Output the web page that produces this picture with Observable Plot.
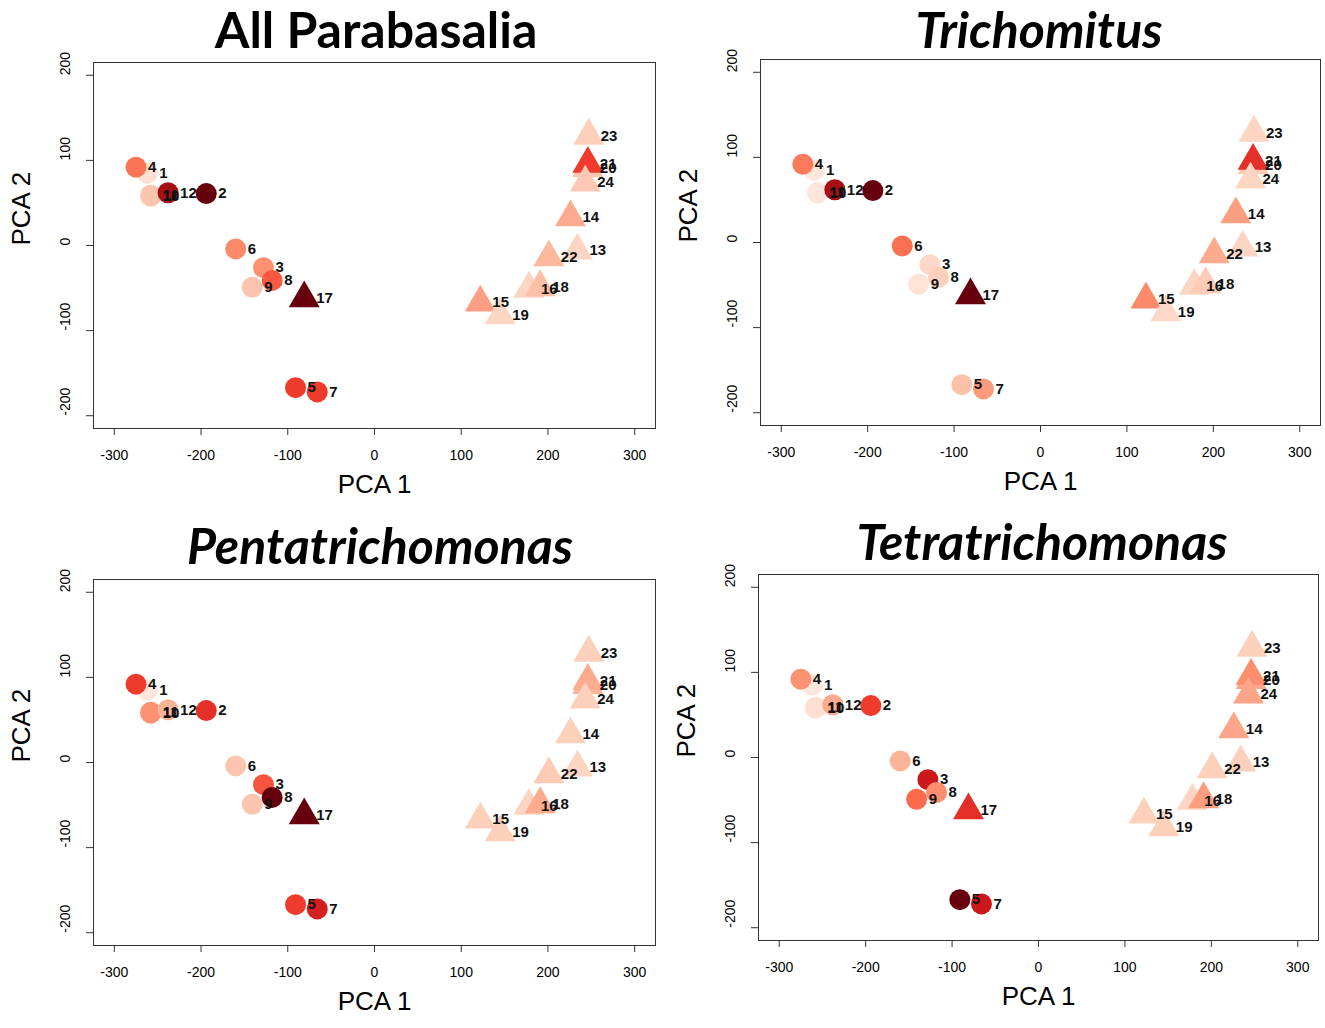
<!DOCTYPE html>
<html>
<head>
<meta charset="utf-8">
<script src="https://cdn.jsdelivr.net/npm/d3@7"></script>
<script src="https://cdn.jsdelivr.net/npm/@observablehq/plot@0.6"></script>
<style>
  body { margin: 0; background: #fff; }
  #wrap { position: relative; width: 1325px; height: 1028px; overflow: hidden; }
  .title { position: absolute; font-family: Lato, "Open Sans", sans-serif; font-weight: 700; font-size: 50px; color: #000; text-align: center; white-space: nowrap; line-height: 1.1; padding: 0 10px; box-sizing: border-box; }
  .panel { position: absolute; }
</style>
</head>
<body>
<div id="wrap"></div>
<script>
// ---- data ----
const sampleIds = [1,2,3,4,5,6,7,8,9,10,11,12,13,14,15,16,17,18,19,20,21,22,23,24];
const pca1 = [-262,-194,-128,-275,-91,-160,-66,-118,-141,-258,-258,-238,234,226,122,178,-81,191,145,246,246,201,247,243];
const pca2 = [85,61,-26,92,-167,-4,-172,-41,-49,58,59,62,-6,33,-67,-51,-62,-49,-82,91,96,-14,129,74];
const shapes = ["circle","circle","circle","circle","circle","circle","circle","circle","circle","circle","circle","circle",
                "triangle","triangle","triangle","triangle","triangle","triangle","triangle","triangle","triangle","triangle","triangle","triangle"];

const titles = ["All Parabasalia", "Trichomitus", "Pentatrichomonas", "Tetratrichomonas"];
const titleItalic = [false, true, true, true];

const colorsAll = ["#fee0d2","#67000d","#fc9272","#fb7555","#ef3b2c","#fc8a6a","#ef3b2c","#f85940","#fcc5b0","#fcc5b0","#fcc5b0","#a50f15",
                   "#fdd5c3","#fcab8f","#fc9f84","#fdd5c3","#67000d","#fcc0a8","#fdd5c3","#fcc5b0","#ef3b2c","#fcb99e","#fdd0bc","#fdc9b4"];
const colorsTrichomitus = ["#fee6dc","#67000d","#fdd8c8","#fb7a5a","#fcc1a9","#fb7050","#fc9a7c","#fdd0bc","#fee3d6","#fee6dc","#fee6dc","#a50f15",
                   "#fdd5c3","#fc9e80","#fb8a6a","#fdd5c3","#67000d","#fdcbb6","#fdd8c8","#fdcbb6","#e32f27","#fcab8f","#fdd5c3","#fdd5c3"];
const colorsPenta = ["#fee6dc","#e32f27","#f5553d","#ef3b2c","#ef3b2c","#fcc5b0","#d42020","#67000d","#fcc5b0","#fc9272","#fc9272","#fcb499",
                   "#fdd5c3","#fdd0bc","#fdd0bc","#fdd5c3","#67000d","#fcab8f","#fdd0bc","#fcb499","#fcab8f","#fdcab5","#fdd0bc","#fdd0bc"];
const colorsTetra = ["#fee6dc","#ef3b2c","#cb181d","#fc9272","#67000d","#fcb499","#cb181d","#fc8d6d","#fb6a4a","#fee0d2","#fee0d2","#fcab8f",
                   "#fdd0bc","#fca588","#fdd0bc","#fdd5c3","#e32f27","#fc9e80","#fdd0bc","#fca588","#fc8d6d","#fdd0bc","#fdd0bc","#fca588"];
const panelColors = [colorsAll, colorsTrichomitus, colorsPenta, colorsTetra];

const xTicks = [-300,-200,-100,0,100,200,300];
const yTicks = [-200,-100,0,100,200];

// ---- layout (pixels) ----
const layout = [
  {svgLeft: 0,   svgTop: 42,  width: 662, titleTop: 2,   titleCenter: 376},
  {svgLeft: 667, svgTop: 39,  width: 660, titleTop: 2,   titleCenter: 1039},
  {svgLeft: 0,   svgTop: 559, width: 662, titleTop: 518, titleCenter: 380},
  {svgLeft: 665, svgTop: 554, width: 660, titleTop: 514, titleCenter: 1042}
];

const wrap = document.getElementById("wrap");

titles.forEach((t, i) => {
  const L = layout[i];
  const data = sampleIds.map((id, k) => ({id, x: pca1[k], y: pca2[k], shape: shapes[k], color: panelColors[i][k]}));

  const chart = Plot.plot({
    width: L.width,
    height: 471,
    marginTop: 20,
    marginBottom: 85,
    marginLeft: 93,
    marginRight: 7,
    style: {fontFamily: "'Liberation Sans', Arial, sans-serif", fontSize: "14px", color: "#000", background: "transparent"},
    x: {domain: [-324, 324]},
    y: {domain: [-215, 215]},
    marks: [
      Plot.axisX({ticks: xTicks, tickSize: 7, tickFormat: () => "", label: null, stroke: "#333"}),
      Plot.axisY({ticks: yTicks, tickSize: 7, tickFormat: () => "", label: null, stroke: "#333"}),
      Plot.text(xTicks, {x: d => d, frameAnchor: "bottom", dy: 31, text: d => String(d), fontSize: 14, fill: "#000"}),
      Plot.text(yTicks, {y: d => d, frameAnchor: "left", dx: -28, rotate: -90, text: d => String(d), fontSize: 14, fill: "#000"}),
      Plot.text(["PCA 1"], {frameAnchor: "bottom", dy: 64, text: d => d, fontSize: 26, fill: "#000"}),
      Plot.text(["PCA 2"], {frameAnchor: "left", dx: -72, rotate: -90, text: d => d, fontSize: 26, fill: "#000"}),
      Plot.frame({stroke: "#333", strokeWidth: 1}),
      Plot.dot(data, {x: "x", y: "y", fill: "color", symbol: "circle", r: 10.5, filter: d => d.shape === "circle"}),
      Plot.dot(data, {x: "x", y: "y", fill: "color", symbol: "triangle", r: 11.5, filter: d => d.shape === "triangle"}),
      Plot.text(data, {x: "x", y: "y", text: d => String(d.id), dx: 12, textAnchor: "start", fontWeight: "bold", fontSize: 15, fill: "#111"})
    ]
  });
  chart.classList.add("panel");
  chart.style.left = L.svgLeft + "px";
  chart.style.top = L.svgTop + "px";
  wrap.appendChild(chart);

  const td = document.createElement("div");
  td.className = "title";
  td.textContent = t;
  td.style.top = L.titleTop + "px";
  td.style.left = (L.titleCenter - 300) + "px";
  td.style.width = "600px";
  if (titleItalic[i]) td.style.fontStyle = "italic";
  wrap.appendChild(td);
});
</script>
</body>
</html>
